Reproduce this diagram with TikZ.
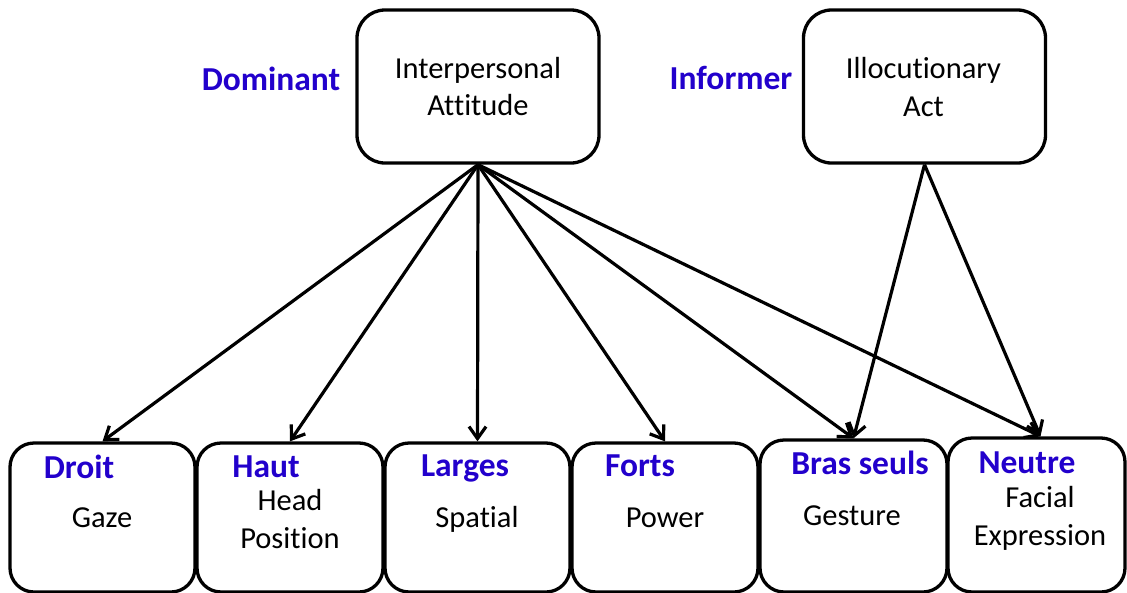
\documentclass[tikz,border=0pt]{standalone}
\usepackage{fontspec}
\setmainfont[Ligatures=NoCommon]{Carlito}
\usetikzlibrary{arrows.meta}
\definecolor{lblblue}{RGB}{34,0,204}
\begin{document}
\begin{tikzpicture}[x=1pt,y=-1pt,
  topbox/.style={draw=black, line width=3.3pt, rounded corners=28pt, inner sep=0pt, minimum width=242pt, minimum height=153pt},
  botbox/.style={draw=black, line width=3.3pt, rounded corners=24pt, inner sep=0pt, minimum height=149pt},
  txt/.style={font=\fontsize{30.5}{37}\selectfont, anchor=base, inner sep=0pt},
  lbl/.style={font=\fontsize{33.5}{40}\selectfont\bfseries, text=lblblue, anchor=base, inner sep=0pt},
  arr/.style={line width=3.2pt, -{Straight Barb[length=12pt,width=17pt,line width=3.2pt]}}]
\useasboundingbox (0,0) rectangle (1127,592);
\clip (0,0) rectangle (1127,592);
% top boxes
\node[topbox] (ia) at (478,86.5) {};
\node[topbox] (ilo) at (924.5,86.5) {};
\node[txt] (ia1) at (478,78) {Interpersonal};
\node[txt] (ia2) at (478,115) {Attitude};
\node[txt] (il1) at (923.5,78) {Illocutionary};
\node[txt] (il2) at (923.5,116) {Act};
\node[lbl] (dom) at (271,90) {Dominant};
\node[lbl] (inf) at (731,89) {Informer};
% bottom boxes
\node[botbox, minimum width=185pt] (gz) at (102.5,517.5) {};
\node[botbox, minimum width=186pt] (hp) at (290,517.5) {};
\node[botbox, minimum width=185pt] (sp) at (477.5,517.5) {};
\node[botbox, minimum width=186pt] (pw) at (665,517.5) {};
\node[botbox, minimum width=187pt, minimum height=152pt] (ge) at (853.5,516) {};
\node[botbox, minimum width=177pt, minimum height=154pt] (fe) at (1036.5,515) {};
% bottom texts
\node[lbl] (l1) at (79,478) {Droit};
\node[txt] (t1) at (102,527) {Gaze};
\node[lbl] (l2) at (266,477) {Haut};
\node[txt] (t2a) at (290,510) {Head};
\node[txt] (t2b) at (290,548) {Position};
\node[lbl] (l3) at (465,476) {Larges};
\node[txt] (t3) at (477,527) {Spatial};
\node[lbl] (l4) at (640,476) {Forts};
\node[txt] (t4) at (665,527) {Power};
\node[lbl] (l5) at (860,474) {Bras seuls};
\node[txt] (t5) at (852,525) {Gesture};
\node[lbl] (l6) at (1027,473) {Neutre};
\node[txt] (t6a) at (1040,507) {Facial};
\node[txt] (t6b) at (1040,545) {Expression};
% arrows
\draw[arr] (ia.south) -- (gz.north);
\draw[arr] (ia.south) -- (hp.north);
\draw[arr] (ia.south) -- (sp.north);
\draw[arr] (ia.south) -- (pw.north);
\draw[arr] (ia.south) -- (ge.north);
\draw[arr] (ia.south) -- ([xshift=4pt]fe.north);
\draw[arr] (ilo.south) -- (ge.north);
\draw[arr] (ilo.south) -- ([xshift=4pt]fe.north);
\end{tikzpicture}
\end{document}
